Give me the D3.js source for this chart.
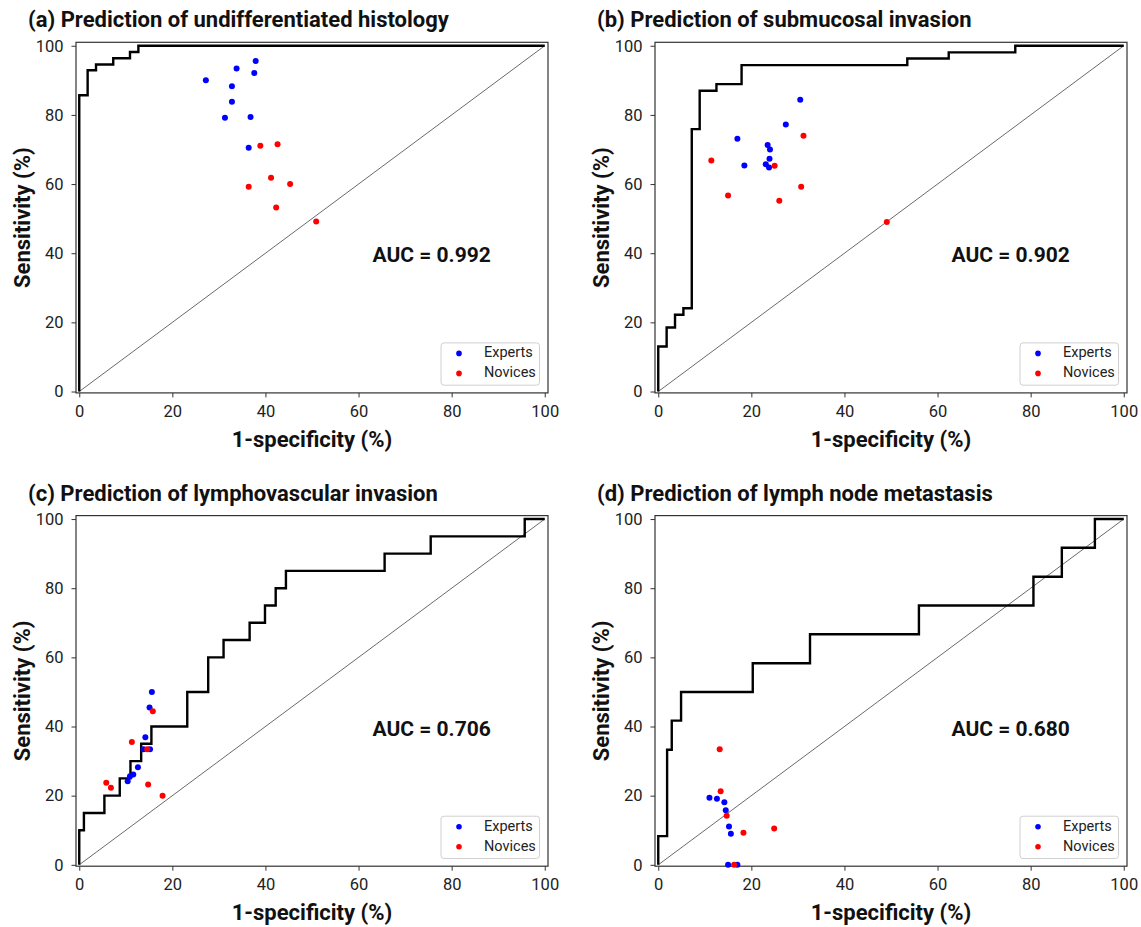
<!DOCTYPE html>
<html>
<head>
<meta charset="utf-8">
<script src="https://cdn.jsdelivr.net/npm/d3@7"></script>
<style>
  body { margin: 0; background: #fff; }
  svg { font-family: Roboto, "Noto Sans", sans-serif; }
</style>
</head>
<body>
<svg id="chart" width="1141" height="927"></svg>
<script>
// titles & labels
const panelTitles = [
  "(a) Prediction of undifferentiated histology",
  "(b) Prediction of submucosal invasion",
  "(c) Prediction of lymphovascular invasion",
  "(d) Prediction of lymph node metastasis"
];
const aucLabels = ["AUC = 0.992", "AUC = 0.902", "AUC = 0.706", "AUC = 0.680"];
const tickValues = [0, 20, 40, 60, 80, 100];
const legendNames = ["Experts", "Novices"];

// ROC curves (1-specificity %, sensitivity %)
const rocA_fpr = [0, 0, 1.8, 1.8, 3.6, 3.6, 7.3, 7.3, 10.9, 10.9, 12.7, 12.7, 100];
const rocA_tpr = [0, 85.7, 85.7, 92.9, 92.9, 94.6, 94.6, 96.4, 96.4, 98.2, 98.2, 100, 100];

const rocB_fpr = [0, 0, 1.8, 1.8, 3.6, 3.6, 5.4, 5.4, 7.2, 7.2, 8.9, 8.9, 12.5, 12.5, 17.9, 17.9, 53.5, 53.5, 62.4, 62.4, 76.7, 76.7, 100];
const rocB_tpr = [0, 13.0, 13.0, 18.5, 18.5, 22.2, 22.2, 24.1, 24.1, 75.9, 75.9, 87.0, 87.0, 88.9, 88.9, 94.4, 94.4, 96.3, 96.3, 98.1, 98.1, 100, 100];

const rocC_fpr = [0, 0, 1.0, 1.0, 5.4, 5.4, 8.7, 8.7, 11.0, 11.0, 13.3, 13.3, 15.5, 15.5, 23.2, 23.2, 27.7, 27.7, 31.0, 31.0, 36.6, 36.6, 39.9, 39.9, 42.2, 42.2, 44.4, 44.4, 65.6, 65.6, 75.5, 75.5, 95.7, 95.7, 100];
const rocC_tpr = [0, 10, 10, 15, 15, 20, 20, 25, 25, 30, 30, 35, 35, 40, 40, 50, 50, 60, 60, 65, 65, 70, 70, 75, 75, 80, 80, 85, 85, 90, 90, 95, 95, 100, 100];

const rocD_fpr = [0, 0, 1.9, 1.9, 2.9, 2.9, 4.9, 4.9, 20.3, 20.3, 32.6, 32.6, 56.0, 56.0, 80.6, 80.6, 86.7, 86.7, 93.8, 93.8, 100];
const rocD_tpr = [0, 8.3, 8.3, 33.3, 33.3, 41.7, 41.7, 50, 50, 58.3, 58.3, 66.7, 66.7, 75, 75, 83.3, 83.3, 91.7, 91.7, 100, 100];

// reader operating points
const expertsA_x = [27.2, 33.8, 37.9, 37.6, 32.8, 32.8, 31.3, 36.8, 36.4];
const expertsA_y = [90.0, 93.4, 95.6, 92.1, 88.3, 83.8, 79.2, 79.4, 70.5];
const novicesA_x = [38.9, 42.6, 41.2, 45.3, 36.4, 42.3, 50.9];
const novicesA_y = [71.1, 71.5, 61.8, 60.0, 59.2, 53.2, 49.2];

const expertsB_x = [30.5, 27.4, 17.0, 23.5, 24.0, 23.9, 23.1, 23.8, 18.5];
const expertsB_y = [84.4, 77.2, 73.1, 71.3, 70.0, 67.3, 65.7, 64.8, 65.4];
const novicesB_x = [31.2, 11.4, 25.0, 30.7, 15.0, 26.0, 49.1];
const novicesB_y = [74.0, 66.8, 65.3, 59.2, 56.7, 55.2, 49.0];

const expertsC_x = [15.6, 15.1, 14.2, 13.8, 15.2, 12.6, 11.6, 10.9, 10.4];
const expertsC_y = [50.0, 45.5, 36.9, 33.4, 33.4, 28.2, 26.1, 25.6, 24.2];
const novicesC_x = [15.8, 11.3, 14.6, 14.8, 5.8, 6.8, 17.9];
const novicesC_y = [44.4, 35.5, 33.4, 23.2, 23.7, 22.3, 20.0];

const expertsD_x = [11.0, 12.6, 14.2, 14.5, 15.2, 15.6, 15.0, 17.0];
const expertsD_y = [19.4, 19.1, 18.1, 15.8, 11.1, 9.0, 0, 0];
const novicesD_x = [13.2, 13.4, 14.7, 18.3, 24.9, 16.3];
const novicesD_y = [33.4, 21.3, 14.2, 9.3, 10.5, 0];

const panels = [
  { title: panelTitles[0], auc: aucLabels[0], fpr: rocA_fpr, tpr: rocA_tpr, ex: expertsA_x, ey: expertsA_y, nx: novicesA_x, ny: novicesA_y },
  { title: panelTitles[1], auc: aucLabels[1], fpr: rocB_fpr, tpr: rocB_tpr, ex: expertsB_x, ey: expertsB_y, nx: novicesB_x, ny: novicesB_y },
  { title: panelTitles[2], auc: aucLabels[2], fpr: rocC_fpr, tpr: rocC_tpr, ex: expertsC_x, ey: expertsC_y, nx: novicesC_x, ny: novicesC_y },
  { title: panelTitles[3], auc: aucLabels[3], fpr: rocD_fpr, tpr: rocD_tpr, ex: expertsD_x, ey: expertsD_y, nx: novicesD_x, ny: novicesD_y }
];

// layout of each axes box (pixels)
const boxes = [
  { left: 76, top: 42.3, titleX: 28 },
  { left: 655, top: 42.3, titleX: 597 },
  { left: 76, top: 515.6, titleX: 28 },
  { left: 655, top: 515.6, titleX: 597 }
];
const boxW = 472, boxH = 350.6;
const xlim = [-0.7, 100.7], ylim = [-0.4, 101];

const svg = d3.select("#chart");

panels.forEach((p, i) => {
  const b = boxes[i];
  const g = svg.append("g").attr("transform", "translate(" + b.left + "," + b.top + ")");

  const x = d3.scaleLinear().domain(xlim).range([0, boxW]);
  const y = d3.scaleLinear().domain(ylim).range([boxH, 0]);

  // axes
  const xAxis = g.append("g")
    .attr("transform", "translate(0," + boxH + ")")
    .call(d3.axisBottom(x).tickValues(tickValues).tickSize(4.5).tickSizeOuter(0).tickPadding(8));
  const yAxis = g.append("g")
    .call(d3.axisLeft(y).tickValues(tickValues).tickSize(4.5).tickSizeOuter(0).tickPadding(8));
  [xAxis, yAxis].forEach(a => {
    a.select(".domain").remove();
    a.selectAll("line").attr("stroke", "#333").attr("stroke-width", 1);
    a.selectAll("text").attr("font-size", "16.5px").attr("fill", "#222")
      .attr("font-family", "Roboto, sans-serif");
  });

  // frame
  g.append("rect")
    .attr("width", boxW).attr("height", boxH)
    .attr("fill", "none").attr("stroke", "#333").attr("stroke-width", 1.2);

  // chance line
  g.append("line")
    .attr("x1", x(0)).attr("y1", y(0))
    .attr("x2", x(100)).attr("y2", y(100))
    .attr("stroke", "#444").attr("stroke-width", 0.8);

  // ROC curve
  const pts = p.fpr.map((f, k) => [f, p.tpr[k]]);
  g.append("path")
    .datum(pts)
    .attr("fill", "none")
    .attr("stroke", "#000")
    .attr("stroke-width", 2.4)
    .attr("d", d3.line().x(d => x(d[0])).y(d => y(d[1])));

  // reader points
  const experts = p.ex.map((v, k) => [v, p.ey[k]]);
  const novices = p.nx.map((v, k) => [v, p.ny[k]]);
  g.selectAll(".exp").data(experts).enter().append("circle")
    .attr("cx", d => x(d[0])).attr("cy", d => y(d[1]))
    .attr("r", 3).attr("fill", "#0000ff");
  g.selectAll(".nov").data(novices).enter().append("circle")
    .attr("cx", d => x(d[0])).attr("cy", d => y(d[1]))
    .attr("r", 3).attr("fill", "#ff0000");

  // AUC text
  g.append("text")
    .attr("x", x(63)).attr("y", y(39))
    .attr("dominant-baseline", "middle")
    .attr("font-size", "21px").attr("font-weight", "bold").attr("fill", "#111")
    .text(p.auc);

  // legend
  const lg = g.append("g").attr("transform", "translate(" + (boxW - 107) + "," + (boxH - 50) + ")");
  lg.append("rect")
    .attr("width", 98.5).attr("height", 42.3).attr("rx", 3)
    .attr("fill", "#fff").attr("stroke", "#d0d0d0").attr("stroke-width", 1);
  const colors = ["#0000ff", "#ff0000"];
  legendNames.forEach((name, k) => {
    lg.append("circle").attr("cx", 18).attr("cy", 10.5 + k * 20).attr("r", 2.8).attr("fill", colors[k]);
    lg.append("text")
      .attr("x", 43).attr("y", 10.5 + k * 20)
      .attr("dominant-baseline", "middle")
      .attr("font-size", "14.5px").attr("fill", "#222")
      .text(name);
  });

  // axis titles
  g.append("text")
    .attr("x", boxW / 2).attr("y", boxH + 54)
    .attr("text-anchor", "middle")
    .attr("font-size", "22px").attr("font-weight", "bold").attr("fill", "#111")
    .text("1-specificity (%)");
  g.append("text")
    .attr("transform", "translate(-46," + (boxH / 2) + ") rotate(-90)")
    .attr("text-anchor", "middle")
    .attr("font-size", "22px").attr("font-weight", "bold").attr("fill", "#111")
    .text("Sensitivity (%)");

  // panel title
  svg.append("text")
    .attr("x", b.titleX).attr("y", b.top - 15)
    .attr("font-size", "22px").attr("font-weight", "bold").attr("fill", "#111")
    .text(p.title);
});
</script>
</body>
</html>
